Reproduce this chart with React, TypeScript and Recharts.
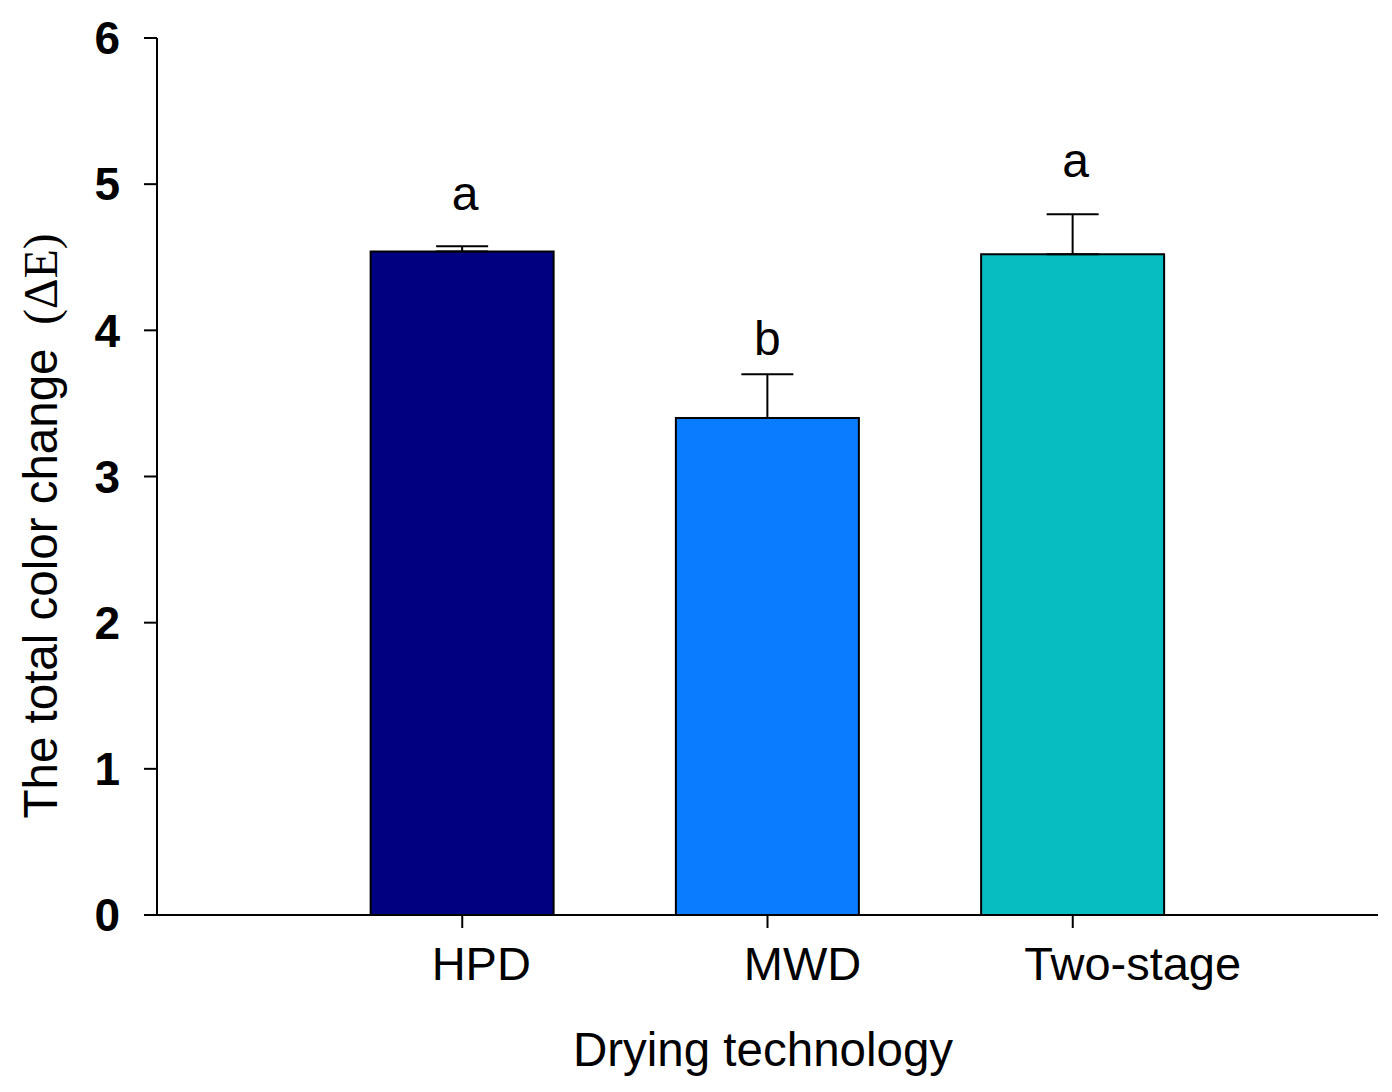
import React from 'react';
import { ComposedChart, Bar, XAxis, YAxis, ErrorBar, LabelList, Cell, Label } from 'recharts';

const categories = ['HPD', 'MWD', 'Two-stage'];
const positions = [1, 2, 3];
const means = [4.54, 3.40, 4.52];
const errors = [0.035, 0.30, 0.275];
const letters = ['a', 'b', 'a'];
const letterAnchors = [4.82, 3.83, 5.05];
const yTicks = [0, 1, 2, 3, 4, 5, 6];
const colors = ['#000080', '#0A7CFF', '#07BDC1'];

const data = categories.map((name, i) => ({
  name,
  x: positions[i],
  value: means[i],
  err: [0, errors[i]],
  letter: letters[i],
  letterAt: letterAnchors[i],
}));

const FONT = 'Arial, "Liberation Sans", sans-serif';
const labelShift: Record<string, number> = { HPD: 19, MWD: 35, 'Two-stage': 60 };
const letterShift = [3, 0, 3];

const XTick = (props: any) => {
  const { x, y, payload } = props;
  const idx = positions.indexOf(payload.value);
  const name = categories[idx] ?? '';
  return (
    <text x={x + (labelShift[name] ?? 0)} y={y} dy={52} textAnchor="middle" fontFamily={FONT} fontSize={47} fill="#000">
      {name}
    </text>
  );
};

const LetterLabel = (props: any) => {
  const { x, width, index } = props;
  const d = data[index];
  const plotTop = 30;
  const plotBottom = 907;
  const yPix = plotBottom - (d.letterAt / 6) * (plotBottom - plotTop);
  return (
    <text x={x + width / 2 + letterShift[index]} y={yPix} textAnchor="middle" fontFamily={FONT} fontSize={48} fill="#000">
      {d.letter}
    </text>
  );
};

export default function App() {
  return (
    <div style={{ width: 1376, height: 1076 }}>
      <ComposedChart width={1376} height={1076} data={data} margin={{ top: 30, right: 6, left: 0, bottom: 0 }}>
        <XAxis
          type="number"
          dataKey="x"
          domain={[0, 4]}
          ticks={positions}
          height={169}
          tickSize={13}
          tickMargin={0}
          axisLine={{ stroke: '#000', strokeWidth: 2 }}
          tickLine={{ stroke: '#000', strokeWidth: 2 }}
          tick={<XTick />}
          interval={0}
        >
          <Label
            content={(p: any) => {
              const vb = p.viewBox;
              return (
                <text x={755} y={vb.y + 151} textAnchor="middle" fontFamily={FONT} fontSize={47.5} fill="#000">
                  Drying technology
                </text>
              );
            }}
          />
        </XAxis>
        <YAxis
          type="number"
          domain={[0, 6]}
          ticks={yTicks}
          width={149}
          tickSize={13}
          tickMargin={24}
          axisLine={{ stroke: '#000', strokeWidth: 2 }}
          tickLine={{ stroke: '#000', strokeWidth: 2 }}
          tick={{ fill: '#000', fontFamily: FONT, fontSize: 46, fontWeight: 'bold' }}
          interval={0}
        >
          <Label
            content={() => (
              <text
                x={49}
                y={518}
                transform="rotate(-90, 49, 518)"
                textAnchor="middle"
                fontFamily={FONT}
                fontSize={47.5}
                fill="#000"
              >
                The total color change
                <tspan fontFamily='"Times New Roman", "Liberation Serif", serif'>{'\u2002(ΔE)'}</tspan>
              </text>
            )}
          />
        </YAxis>
        <Bar dataKey="value" barSize={183} stroke="#000" strokeWidth={2} isAnimationActive={false}>
          {data.map((d, i) => (
            <Cell key={d.name} fill={colors[i]} />
          ))}
          <ErrorBar dataKey="err" direction="y" width={26} stroke="#000" strokeWidth={2} isAnimationActive={false} />
          <LabelList dataKey="letter" content={LetterLabel} />
        </Bar>
      </ComposedChart>
    </div>
  );
}
